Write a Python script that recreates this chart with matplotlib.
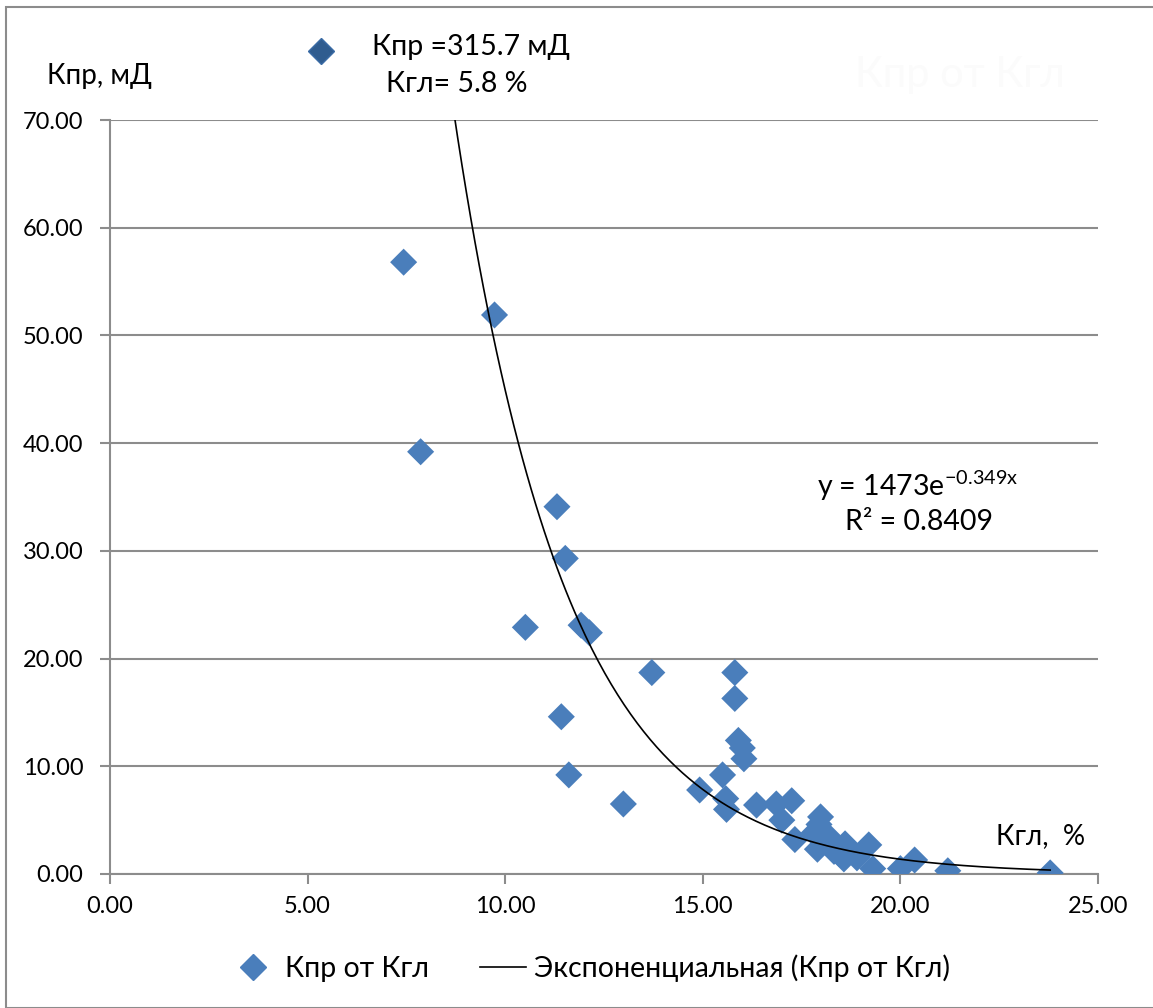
import matplotlib
matplotlib.use("Agg")
import matplotlib.pyplot as plt
import numpy as np
from matplotlib.lines import Line2D
from matplotlib.patches import Rectangle

plt.rcParams['font.family'] = ['Lato', 'DejaVu Sans']
plt.rcParams['mathtext.fontset'] = 'custom'
plt.rcParams['mathtext.rm'] = 'Lato'

# data: Кгл (%) vs Кпр (мД)
kgl = [7.43, 9.73, 7.86, 11.31, 11.52, 10.51, 11.92, 12.13, 13.71, 11.42,
       11.61, 12.99, 15.81, 15.81, 15.90, 16.00, 16.04, 15.50, 14.92, 15.58,
       15.60, 16.36, 16.86, 17.25, 17.00, 17.33, 17.98, 17.94, 17.81, 18.20,
       17.90, 18.32, 18.60, 18.57, 18.90, 18.45, 19.20, 19.30, 20.00, 20.36,
       21.20, 23.79]
kpr = [56.8, 51.9, 39.2, 34.1, 29.3, 22.9, 23.1, 22.4, 18.7, 14.6,
       9.2, 6.5, 18.7, 16.3, 12.4, 11.7, 10.7, 9.2, 7.8, 7.0,
       6.0, 6.4, 6.5, 6.8, 5.0, 3.2, 5.3, 4.6, 3.8, 3.4,
       2.3, 2.1, 2.8, 1.4, 1.5, 1.9, 2.7, 0.5, 0.5, 1.3,
       0.3, 0.1]

# exponential trend from the chart
a_coef = 1473
b_coef = -0.349
r2 = 0.8409

x_ticks = [0, 5, 10, 15, 20, 25]
y_ticks = [0, 10, 20, 30, 40, 50, 60, 70]

blue = '#4A7EBB'
grid_c = '#8C8C8C'

fig = plt.figure(figsize=(11.53, 10.08), dpi=100)
ax = fig.add_axes([110 / 1153, 1 - 874 / 1008, (1098 - 110) / 1153, (874 - 120) / 1008])

# outer chart frame
fig.add_artist(Rectangle((6 / 1153, 0), 1.2, 1 - 7 / 1008, transform=fig.transFigure,
                         fill=False, edgecolor='#8C8C8C', lw=1.5))

ax.scatter(kgl, kpr, marker='D', s=190, color=blue, edgecolors='none', zorder=3,
           label='Кпр от Кгл')
xs = np.linspace(min(kgl), max(kgl), 300)
ax.plot(xs, a_coef * np.exp(b_coef * xs), color='black', lw=1.2, zorder=4,
        label='Экспоненциальная (Кпр от Кгл)')

ax.set_xlim(0, 25)
ax.set_ylim(0, 70)
ax.set_xticks(x_ticks)
ax.set_yticks(y_ticks)
ax.set_xticklabels([f'{v:.2f}' for v in x_ticks])
ax.set_yticklabels([f'{v:.2f}' for v in y_ticks])
ax.yaxis.grid(True, color=grid_c, lw=1.5)
ax.set_axisbelow(True)
for s in ['top', 'right']:
    ax.spines[s].set_visible(False)
for s in ['left', 'bottom']:
    ax.spines[s].set_color(grid_c)
    ax.spines[s].set_linewidth(1.5)
ax.tick_params(axis='both', colors=grid_c, labelcolor='black', labelsize=17,
               length=7, width=1.5)
ax.tick_params(axis='y', pad=12)
ax.tick_params(axis='x', pad=9)

# axis captions
fig.text(47 / 1153, 1 - 76 / 1008, 'Кпр, мД', fontsize=20, va='center', ha='left')
ax.text(24.67, 2.3, 'Кгл,  %', fontsize=20, ha='right', va='bottom')

# trend equation
ax.text(17.9, 36.1, r'y = 1473e$^{\mathrm{-0.349x}}$', fontsize=20.5, ha='left', va='center')
ax.text(18.6, 32.7, f'R² = {r2}', fontsize=20.5, ha='left', va='center')

# annotation for the off-scale point
fig.add_artist(Line2D([321 / 1153], [1 - 51 / 1008], marker='D', markersize=13,
                      color='#2F5C8F', markeredgecolor='#3B6CA6',
                      transform=fig.transFigure))
fig.text(372 / 1153, 1 - 47 / 1008, 'Кпр =315.7 мД', fontsize=20.5, va='center', ha='left')
fig.text(386 / 1153, 1 - 84 / 1008, 'Кгл= 5.8 %', fontsize=20.5, va='center', ha='left')

# faint chart title
fig.text(960 / 1153, 1 - 75 / 1008, 'Кпр от Кгл', fontsize=30, color='#FBFBFB',
         ha='center', va='center')

handles = [Line2D([], [], marker='D', ls='none', color=blue, markersize=13),
           Line2D([], [], color='black', lw=1.2)]
fig.legend(handles, ['Кпр от Кгл', 'Экспоненциальная (Кпр от Кгл)'],
           loc='center', bbox_to_anchor=(0.512, 1 - 968 / 1008), ncol=2,
           frameon=False, fontsize=20.5, handlelength=1.6, handletextpad=0.3,
           columnspacing=1.8)

fig.savefig('out.png', dpi=100)
